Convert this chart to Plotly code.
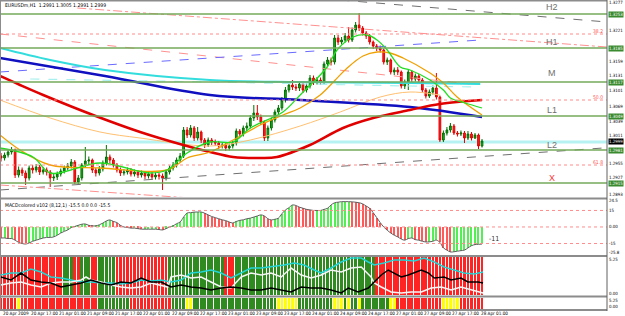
import plotly.graph_objects as go

W, H = 625, 316
XR = 607  # right edge of plotting area (px)

# ---------------- DATA ----------------
OPEN = [1.2969,1.2965,1.2971,1.2977,1.2981,1.2931,1.2941,1.2935,1.2925,1.2945,
1.2941,1.2947,1.2937,1.2941,1.2937,1.2925,1.2927,1.2933,1.2939,1.2945,
1.2949,1.2957,1.2917,1.2925,1.2951,1.2959,1.2961,1.2941,1.2935,1.2943,
1.2955,1.2967,1.2961,1.2951,1.2941,1.2935,1.2937,1.2941,1.2933,1.2937,
1.2931,1.2935,1.2929,1.2933,1.2927,1.2931,1.2929,1.2925,1.2937,1.2945,
1.2951,1.2961,1.2969,1.3021,1.3011,1.3025,1.3005,1.3017,1.3001,1.2991,
1.3001,1.2997,1.2995,1.2989,1.2991,1.2985,1.2989,1.2995,1.3019,1.3013,
1.3025,1.3029,1.3045,1.3055,1.3047,1.3037,1.3005,1.3025,1.3041,1.3057,
1.3065,1.3081,1.3101,1.3111,1.3107,1.3105,1.3113,1.3101,1.3109,1.3125,
1.3117,1.3121,1.3117,1.3153,1.3161,1.3157,1.3205,1.3197,1.3201,1.3209,
1.3201,1.3221,1.3231,1.3225,1.3215,1.3209,1.3197,1.3189,1.3185,1.3181,
1.3157,1.3161,1.3137,1.3141,1.3137,1.3109,1.3117,1.3137,1.3123,1.3129,
1.3121,1.3101,1.3089,1.3097,1.3105,1.3087,1.3001,1.3015,1.3021,1.3029,
1.3015,1.3013,1.3015,1.3005,1.3013,1.3005,1.3011,1.2989]
HIGH = [1.2975,1.2976,1.2983,1.2987,1.2984,1.2948,1.2946,1.2940,1.2950,1.2951,
1.2953,1.2951,1.2947,1.2946,1.2941,1.2933,1.2938,1.2944,1.2950,1.2955,
1.2963,1.2961,1.2931,1.2955,1.2987,1.2968,1.2964,1.2945,1.2949,1.2960,
1.2991,1.2972,1.2965,1.2955,1.2946,1.2943,1.2946,1.2945,1.2942,1.2941,
1.2940,1.2939,1.2938,1.2937,1.2936,1.2935,1.2934,1.2942,1.2950,1.2957,
1.2966,1.2975,1.3027,1.3027,1.3031,1.3029,1.3027,1.3020,1.3005,1.3006,
1.3005,1.3002,1.2999,1.2996,1.2995,1.2994,1.3000,1.3024,1.3023,1.3030,
1.3036,1.3051,1.3071,1.3071,1.3052,1.3040,1.3030,1.3046,1.3062,1.3071,
1.3087,1.3107,1.3117,1.3121,1.3113,1.3118,1.3117,1.3114,1.3131,1.3130,
1.3127,1.3126,1.3158,1.3167,1.3166,1.3211,1.3211,1.3207,1.3215,1.3227,
1.3226,1.3237,1.3255,1.3229,1.3219,1.3213,1.3200,1.3193,1.3190,1.3184,
1.3166,1.3164,1.3146,1.3147,1.3140,1.3122,1.3142,1.3141,1.3134,1.3133,
1.3125,1.3105,1.3102,1.3110,1.3135,1.3090,1.3020,1.3027,1.3035,1.3033,
1.3019,1.3020,1.3019,1.3019,1.3017,1.3015,1.3014,1.3003]
LOW = [1.2958,1.2960,1.2966,1.2972,1.2925,1.2926,1.2929,1.2911,1.2920,1.2934,
1.2936,1.2931,1.2932,1.2930,1.2907,1.2919,1.2921,1.2928,1.2934,1.2940,
1.2944,1.2913,1.2911,1.2920,1.2946,1.2952,1.2935,1.2928,1.2930,1.2938,
1.2950,1.2954,1.2946,1.2936,1.2929,1.2930,1.2932,1.2928,1.2928,1.2925,
1.2926,1.2923,1.2924,1.2921,1.2922,1.2922,1.2901,1.2920,1.2932,1.2940,
1.2946,1.2956,1.2965,1.3005,1.3006,1.2999,1.3000,1.2995,1.2985,1.2987,
1.2991,1.2989,1.2983,1.2984,1.2979,1.2980,1.2984,1.2990,1.3007,1.3008,
1.3019,1.3024,1.3039,1.3041,1.3031,1.2999,1.2999,1.3020,1.3036,1.3051,
1.3060,1.3076,1.3096,1.3101,1.3099,1.3099,1.3095,1.3096,1.3104,1.3111,
1.3112,1.3111,1.3113,1.3147,1.3150,1.3152,1.3191,1.3192,1.3196,1.3196,
1.3197,1.3216,1.3219,1.3210,1.3203,1.3192,1.3183,1.3179,1.3176,1.3152,
1.3151,1.3132,1.3131,1.3131,1.3104,1.3103,1.3101,1.3117,1.3118,1.3116,
1.3096,1.3084,1.3085,1.3092,1.3082,1.2997,1.2997,1.3010,1.3016,1.3011,
1.3008,1.3009,1.2995,1.3001,1.3000,1.3003,1.2983,1.2986]
CLOSE = [1.2965,1.2971,1.2977,1.2981,1.2931,1.2941,1.2935,1.2925,1.2945,1.2941,
1.2947,1.2937,1.2941,1.2937,1.2925,1.2927,1.2933,1.2939,1.2945,1.2949,
1.2957,1.2917,1.2925,1.2951,1.2959,1.2961,1.2941,1.2935,1.2943,1.2955,
1.2967,1.2961,1.2951,1.2941,1.2935,1.2937,1.2941,1.2933,1.2937,1.2931,
1.2935,1.2929,1.2933,1.2927,1.2931,1.2929,1.2925,1.2937,1.2945,1.2951,
1.2961,1.2969,1.3021,1.3011,1.3025,1.3005,1.3017,1.3001,1.2991,1.3001,
1.2997,1.2995,1.2989,1.2991,1.2985,1.2989,1.2995,1.3019,1.3013,1.3025,
1.3029,1.3045,1.3055,1.3047,1.3037,1.3005,1.3025,1.3041,1.3057,1.3065,
1.3081,1.3101,1.3111,1.3107,1.3105,1.3113,1.3101,1.3109,1.3125,1.3117,
1.3121,1.3117,1.3153,1.3161,1.3157,1.3205,1.3197,1.3201,1.3209,1.3201,
1.3221,1.3231,1.3225,1.3215,1.3209,1.3197,1.3189,1.3185,1.3181,1.3157,
1.3161,1.3137,1.3141,1.3137,1.3109,1.3117,1.3137,1.3123,1.3129,1.3121,
1.3101,1.3089,1.3097,1.3105,1.3087,1.3001,1.3015,1.3021,1.3029,1.3015,
1.3013,1.3015,1.3005,1.3013,1.3005,1.3011,1.2989,1.2999]

TIME_LABELS = ["20 Apr 2009", "20 Apr 17:00", "21 Apr 01:00", "21 Apr 09:00", "21 Apr 17:00",
               "22 Apr 01:00", "22 Apr 09:00", "22 Apr 17:00", "23 Apr 01:00", "23 Apr 09:00",
               "23 Apr 17:00", "24 Apr 01:00", "24 Apr 09:00", "24 Apr 17:00", "27 Apr 01:00",
               "27 Apr 09:00", "27 Apr 17:00", "28 Apr 01:00"]
TIME_LABEL_BARS = [0, 8, 16, 24, 32, 40, 48, 56, 64, 72, 80, 88, 96, 104, 112, 120, 128, 136]

# moving averages (bar index, price)
MA_RED_X = [-0.3, 5.4, 12, 26.2, 39.6, 51.9, 59.5, 66.1, 73.8, 78.6, 88, 97.4, 106, 116.5, 125, 137]
MA_RED_Y = [1.3129, 1.3111, 1.3091, 1.3051, 1.3017, 1.2991, 1.2977, 1.2967, 1.2965, 1.2967,
            1.2991, 1.3025, 1.3045, 1.3061, 1.3073, 1.3081]
MA_BLUE_X = [-0.3, 29.6, 59.5, 85.2, 116.5, 137]
MA_BLUE_Y = [1.3165, 1.3129, 1.3091, 1.3081, 1.3067, 1.3047]
MA_CYAN_X = [-0.3, 14, 29.6, 59.5, 85.2, 116.5, 136.5]
MA_CYAN_Y = [1.3185, 1.3161, 1.3141, 1.3121, 1.3117, 1.3115, 1.3113]
MA_LCYAN_X = [8.3, 59.5, 116.5, 136.5]
MA_LCYAN_Y = [1.3123, 1.3117, 1.3109, 1.3107]
MA_ORANGE_X = [-0.3, 5.4, 14, 28.2, 47.3, 53, 59.5, 66.1, 73.8, 80.3, 85.2, 90.9, 95.2, 98.6,
               103.1, 107.1, 110.8, 114.5, 122.2, 126, 129.9, 137]
MA_ORANGE_Y = [1.3011, 1.2981, 1.2951, 1.2945, 1.2941, 1.2965, 1.2977, 1.3001, 1.3031, 1.3051,
               1.3065, 1.3091, 1.3121, 1.3145, 1.3169, 1.3177, 1.3175, 1.3165, 1.3135, 1.3115,
               1.3087, 1.3051]
MA_TAN_X = [-0.3, 14, 28.2, 39.6, 59.5, 71, 85.2, 96.6, 108, 116.5, 125]
MA_TAN_Y = [1.3081, 1.3045, 1.3017, 1.3005, 1.2989, 1.3001, 1.3029, 1.3057, 1.3087, 1.3097, 1.3091]
MA_GREEN_X = [-0.3, 9.1, 14, 28.2, 42.5, 47.3, 53, 59.5, 66.1, 71, 80.3, 85.2, 92.9, 95.7, 100.3,
              104.3, 107.1, 110, 113.7, 116.5, 122.2, 126, 128, 132.2, 137]
MA_GREEN_Y = [1.2985, 1.2967, 1.2935, 1.2955, 1.2935, 1.2941, 1.2975, 1.2997, 1.2997, 1.3025,
              1.3057, 1.3091, 1.3147, 1.3181, 1.3207, 1.3211, 1.3201, 1.3181, 1.3147, 1.3141,
              1.3121, 1.3101, 1.3085, 1.3075, 1.3065]

# trend lines (two end points each, bar index / price)
TL_GRAY_TOP = ([96.6, 172.6], [1.3281, 1.3237])
TL_PINK_1 = ([21.7, 172.6], [1.3265, 1.3187])
TL_PINK_2 = ([-0.3, 133.6], [1.3213, 1.3113])
TL_BLUE = ([-0.3, 136.5], [1.3137, 1.3201])
TL_GRAY_LOW = ([-0.3, 171.5], [1.2901, 1.2985])
TL_PINK_LOW = ([-0.3, 54], [1.2911, 1.2885])

LEVEL_NAMES = ["H2", "H1", "M", "L1", "L2", "X"]
LEVEL_PRICES = [1.3253, 1.3185, 1.3117, 1.3049, 1.2981, 1.2915]
FIB_NAMES = ["38.2", "50.0", "61.8"]
FIB_PRICES = [1.3213, 1.3081, 1.2951]
BID_PRICE = 1.2997
LAST_PRICE = 1.2999
PRICE_TICKS = [1.3277, 1.3221, 1.3159, 1.3131, 1.3101, 1.3069, 1.3039, 1.3011, 1.2955, 1.2927, 1.2893]

MACD = [-10,-10,-10.5,-10.5,-12,-14,-15,-15.5,-14.5,-13,
-12,-11,-10,-9.5,-9.5,-9,-7.5,-5.5,-4,-2.7,
-0.5,0.5,1.5,2.5,2.7,1.5,1,1,2,3.5,
5.5,6.4,5,4,1.5,0,-0.5,-1,-1,-1.5,
-2,-2,-2,-2,-2,-2.3,-2.7,-1.5,0,1,
3,4.5,9,12.7,13,13.5,13.6,13.6,12.5,11,
9.5,8.5,7.5,6.5,5.8,4.5,3.6,5,6,6.5,
7.5,8,9,10,11,10,7.5,6.4,7,8,
12,15.5,17.5,20,19.5,18,17,16,15.5,15,
15,15,16,17,20,22,22.5,23,23,23,
22.8,22.5,22,21,19,17,13,8.5,4,0,
-3,-5.5,-7.5,-9,-11,-12,-10.5,-10,-11.5,-12,
-13,-13.6,-13.5,-13,-12,-14,-19,-21,-22.7,-22.5,
-22,-21.5,-21,-19,-17,-16,-15.8,-15.5]
MACD_LEVELS = [15, 0, -15]
MACD_LABELS = ["24.5", "15", "0.00", "-15", "-25.8"]
MACD_LABEL_VALUES = [24.0, 15, 0, -15, -22.8]

# oscillator panel: state runs (first bar, last bar, state)
OSC_RUNS = [(0, 17, "down"), (18, 20, "up"), (21, 22, "down"), (23, 25, "up"), (26, 27, "down"),
            (28, 32, "up"), (33, 47, "down"), (48, 63, "up"), (64, 66, "down"), (67, 106, "up"),
            (107, 137, "down")]
OSC_CYAN_X = [0, 2.8, 5.7, 8.5, 11.4, 14.2, 17.1, 19.9, 22.8, 25.6, 28.5, 31.3, 34.2, 37, 39.9, 42.7,
              45.6, 48.4, 51.3, 54.1, 57, 59.8, 62.7, 65.5, 68.4, 71.2, 74.1, 76.9, 80.6, 83.5, 86.3,
              89.2, 91.2, 94, 96.9, 99.7, 102.6, 104.6, 106.3, 109.1, 112, 114.8, 117.7, 120.5,
              123.4, 126.2, 129.1, 131.9, 134.8, 137.3]
OSC_CYAN_Y = [2.77, 3.06, 3.06, 3.65, 3.21, 2.48, 2.33, 2.04, 1.75, 1.75, 1.60, 1.60, 1.46, 1.60, 2.04,
              1.90, 2.04, 1.75, 2.04, 3.06, 3.21, 3.50, 3.06, 2.33, 3.06, 3.79, 3.79, 3.94, 4.23, 4.52,
              4.23, 3.50, 3.06, 3.79, 4.67, 5.25, 5.25, 4.67, 4.23, 4.52, 4.96, 4.96, 4.81, 5.25,
              4.67, 3.94, 3.50, 3.06, 2.92, 3.21]
OSC_WHITE_X = [0, 2.8, 5.7, 8.5, 11.4, 14.2, 17.1, 19.9, 22.8, 24.2, 25.6, 28.5, 31.3, 34.2, 37, 39.9,
               42.7, 45.6, 47.5, 48.4, 51.3, 54.1, 57, 59.8, 62.7, 65.5, 68.4, 71.2, 74.1, 76.9, 79.8,
               82.6, 85.5, 88.3, 91.2, 94, 96.9, 99.7, 102.6, 105.4, 106.3, 108.3, 111.1, 114,
               116.8, 119.7, 122.5, 125.4, 128.2, 131, 133.9, 137.3]
OSC_WHITE_Y = [1.31, 1.60, 1.75, 1.31, 1.02, 1.60, 1.75, 1.75, 2.04, 2.48, 2.04, 1.75, 1.31, 1.02, 0.87,
               1.02, 1.60, 1.31, 1.02, 2.48, 2.77, 2.33, 2.48, 1.75, 1.02, 0.87, 2.48, 3.06, 2.77,
               3.06, 2.48, 3.79, 2.77, 2.33, 2.77, 3.50, 3.21, 3.79, 3.94, 2.48, 1.60, 1.02, 0.29,
               0.15, 0.29, 0.29, 0.87, 1.02, 0.58, 1.02, 0.58, 0.15]
OSC_BLACK_X = [0, 2.8, 5.7, 8.5, 11.4, 14.2, 17.1, 19.9, 22.8, 25.6, 28.5, 31.3, 34.2, 37, 39.9, 42.7,
               45.6, 48.4, 51.3, 54.1, 57, 59.8, 62.7, 65.5, 68.4, 71.2, 74.1, 76.9, 79.8, 82.6, 85.5,
               88.3, 91.2, 94, 96.9, 98.9, 101.7, 104.6, 106.3, 108.3, 110.3, 112, 114, 116, 117.7,
               119.7, 121.7, 123.4, 126.2, 128.2, 131, 133, 135.9, 137.3]
OSC_BLACK_Y = [2.48, 2.04, 3.06, 2.04, 1.75, 1.60, 1.02, 1.31, 1.60, 2.04, 1.60, 1.31, 1.75, 1.60, 2.33,
               1.75, 1.75, 1.02, 1.31, 1.02, 0.87, 0.58, 0.87, 1.02, 0.87, 0.58, 0.58, 0.87, 0.58,
               0.29, 1.02, 0.87, 0.87, 0.58, 0.15, 0.87, 0.29, 0.87, 1.75, 2.77, 3.50, 3.06, 2.48,
               2.77, 3.06, 3.50, 3.06, 2.33, 2.48, 2.04, 2.33, 1.75, 1.75, 1.60]

# bottom strip: state runs
STRIP_RUNS = [(0, 4, "down"), (5, 5, "flat"), (6, 27, "down"), (28, 36, "up"), (37, 48, "down"),
              (49, 52, "up"), (53, 54, "flat"), (55, 78, "up"), (79, 84, "flat"), (85, 94, "up"),
              (95, 97, "flat"), (98, 98, "up"), (99, 99, "flat"), (100, 101, "up"), (102, 102, "flat"),
              (103, 110, "up"), (111, 112, "flat"), (113, 125, "down"), (126, 130, "flat"),
              (131, 137, "down")]

# ---------------- FIGURE ----------------
N = len(CLOSE)
BARS = list(range(N))
XRANGE = [-0.3, 172.6]
STATE_COLORS = {"up": "#2f8a1f", "down": "#ff2424", "flat": "#ffff00"}
SMALL = dict(family="DejaVu Sans Condensed, DejaVu Sans, sans-serif", size=5, color="#000000")
AXLAB = dict(SMALL, size=4.4)


def ydom(top, bottom):
    return [1 - bottom / H, 1 - top / H]


def py(y):
    return 1 - y / H


def expand(runs):
    out = [None] * N
    for a, b, s in runs:
        for i in range(a, b + 1):
            out[i] = STATE_COLORS[s]
    return out


fig = go.Figure()


def line(xs, ys, color, width, dash="solid", shape="spline"):
    fig.add_trace(go.Scatter(x=xs, y=ys, mode="lines", xaxis="x", yaxis="y",
                             line=dict(color=color, width=width, dash=dash, shape=shape),
                             hoverinfo="skip", showlegend=False))


line(*TL_GRAY_TOP, "#707070", 1, "dash", "linear")
line(*TL_PINK_1, "#ff9090", 1, "dashdot", "linear")
line(*TL_PINK_2, "#ff9090", 1, "dash", "linear")
line(*TL_BLUE, "#6a6aff", 1, "dash", "linear")
line(*TL_GRAY_LOW, "#707070", 1, "dash", "linear")
line(*TL_PINK_LOW, "#ff9090", 1, "dashdot", "linear")
line(MA_LCYAN_X, MA_LCYAN_Y, "#a8f0f0", 1.2, "dash")
line(MA_CYAN_X, MA_CYAN_Y, "#33dddd", 2)
line(MA_TAN_X, MA_TAN_Y, "#ffc070", 1)
line(MA_BLUE_X, MA_BLUE_Y, "#1010c0", 2.5)
line(MA_RED_X, MA_RED_Y, "#e00000", 2.5)
line(MA_ORANGE_X, MA_ORANGE_Y, "#f0a000", 1.3)
line(MA_GREEN_X, MA_GREEN_Y, "#22dd22", 1.3)

fig.add_trace(go.Candlestick(
    x=BARS, open=OPEN, high=HIGH, low=LOW, close=CLOSE, xaxis="x", yaxis="y",
    increasing=dict(line=dict(color="#007000", width=1), fillcolor="#20b020"),
    decreasing=dict(line=dict(color="#e00000", width=1), fillcolor="#ff2020"),
    whiskerwidth=0, hoverinfo="skip", showlegend=False))

# MACD panel
macd_colors = []
for i, v in enumerate(MACD):
    if i > 0 and v >= MACD[i - 1]:
        macd_colors.append("#55ee55")
    else:
        macd_colors.append("#ff5a5a")
fig.add_trace(go.Bar(x=BARS, y=MACD, width=0.3, marker=dict(color=macd_colors, line=dict(width=0)),
                     xaxis="x2", yaxis="y2", hoverinfo="skip", showlegend=False))
fig.add_trace(go.Scatter(x=BARS, y=MACD, mode="lines", xaxis="x2", yaxis="y2",
                         line=dict(color="#606060", width=1, shape="spline"),
                         hoverinfo="skip", showlegend=False))

# oscillator panel
osc_colors = expand(OSC_RUNS)
fig.add_trace(go.Bar(x=BARS, y=[5.6] * N, base=-0.2, width=0.78,
                     marker=dict(color=osc_colors, line=dict(width=0)),
                     xaxis="x3", yaxis="y3", hoverinfo="skip", showlegend=False))
for xs, ys, c in [(OSC_CYAN_X, OSC_CYAN_Y, "#22d4d4"), (OSC_WHITE_X, OSC_WHITE_Y, "#f4f4f4"),
                  (OSC_BLACK_X, OSC_BLACK_Y, "#000000")]:
    fig.add_trace(go.Scatter(x=xs, y=ys, mode="lines", xaxis="x3", yaxis="y3",
                             line=dict(color=c, width=1.5), hoverinfo="skip", showlegend=False))

# bottom strip
strip_colors = expand(STRIP_RUNS)
fig.add_trace(go.Bar(x=BARS, y=[1] * N, width=0.78, marker=dict(color=strip_colors, line=dict(width=0)),
                     xaxis="x4", yaxis="y4", hoverinfo="skip", showlegend=False))

# ---------------- LAYOUT ----------------
xd = [0, XR / W]
ax = dict(range=XRANGE, showgrid=False, zeroline=False, showticklabels=False, ticks="",
          domain=xd, fixedrange=True)
yax = dict(showgrid=False, zeroline=False, showticklabels=False, ticks="", fixedrange=True)

P_TOP, P_BOT = 1.3279, 1.2887  # main panel range (pixels 1..197)

fig.update_layout(
    width=W, height=H, margin=dict(l=0, r=0, t=0, b=0),
    paper_bgcolor="white", plot_bgcolor="white",
    font=dict(family="DejaVu Sans Condensed, DejaVu Sans, sans-serif", size=6, color="#000000"),
    showlegend=False, bargap=0,
    xaxis=dict(ax, anchor="y", rangeslider=dict(visible=False)),
    xaxis2=dict(ax, anchor="y2", matches="x"),
    xaxis3=dict(ax, anchor="y3", matches="x"),
    xaxis4=dict(ax, anchor="y4", matches="x"),
    yaxis=dict(yax, domain=ydom(1, 197), range=[P_BOT, P_TOP], anchor="x"),
    yaxis2=dict(yax, domain=ydom(200, 255), range=[-25.45, 24.5], anchor="x2"),
    yaxis3=dict(yax, domain=ydom(257, 295), range=[-0.15, 5.4], anchor="x3"),
    yaxis4=dict(yax, domain=ydom(298, 309), range=[0, 1], anchor="x4"),
)

shapes = []
ann = []

for p in LEVEL_PRICES:
    shapes.append(dict(type="line", xref="paper", yref="y", x0=0, x1=XR / W, y0=p, y1=p,
                       line=dict(color="#74aa5a", width=1.5)))
for p in FIB_PRICES:
    shapes.append(dict(type="line", xref="paper", yref="y", x0=0, x1=XR / W, y0=p, y1=p,
                       line=dict(color="#ff8c8c", width=1, dash="dot")))
shapes.append(dict(type="line", xref="paper", yref="y", x0=0, x1=XR / W, y0=BID_PRICE, y1=BID_PRICE,
                   line=dict(color="#b6f2f2", width=3), layer="below"))
for v in MACD_LEVELS:
    shapes.append(dict(type="line", xref="paper", yref="y2", x0=0, x1=XR / W, y0=v, y1=v,
                       line=dict(color="#ff8c8c", width=1, dash="dot")))

for yy in [0.5, 198.5, 256, 296.5, 310]:
    shapes.append(dict(type="line", xref="paper", yref="paper", x0=0, x1=XR / W, y0=py(yy), y1=py(yy),
                       line=dict(color="#8c8c8c", width=2)))
shapes.append(dict(type="line", xref="paper", yref="paper", x0=XR / W, x1=XR / W, y0=py(0), y1=py(311),
                   line=dict(color="#606060", width=1)))
shapes.append(dict(type="line", xref="paper", yref="paper", x0=0.5 / W, x1=0.5 / W, y0=py(0), y1=py(311),
                   line=dict(color="#8c8c8c", width=1)))

level_y = [7, 42, 73, 110, 145, 178]
for name, yy in zip(LEVEL_NAMES, level_y):
    ann.append(dict(x=552 / W, y=py(yy), xref="paper", yref="paper", text=name, showarrow=False,
                    xanchor="center", yanchor="middle",
                    font=dict(family="Liberation Sans, Arial, sans-serif", size=9,
                              color="#ff3030" if name == "X" else "#707070")))
fib_y = [31, 97, 162]
for name, yy in zip(FIB_NAMES, fib_y):
    ann.append(dict(x=605 / W, y=py(yy), xref="paper", yref="paper", text=name, showarrow=False,
                    xanchor="right", yanchor="middle", font=dict(SMALL, color="#ff5050")))

LAB_X = 608 / W
for p in PRICE_TICKS:
    ann.append(dict(x=LAB_X, y=p, xref="paper", yref="y", text=f"{p:.4f}", showarrow=False,
                    xanchor="left", yanchor="middle", borderpad=0, font=AXLAB))
for p in LEVEL_PRICES:
    ann.append(dict(x=LAB_X, y=p, xref="paper", yref="y", text=f"{p:.4f}", showarrow=False,
                    xanchor="left", yanchor="middle", bgcolor="#3a8a30", borderpad=0,
                    font=dict(AXLAB, color="#ffffff")))
ann.append(dict(x=LAB_X, y=LAST_PRICE, xref="paper", yref="y", text=f"{LAST_PRICE:.4f}", showarrow=False,
                xanchor="left", yanchor="middle", bgcolor="#000000", borderpad=0,
                font=dict(AXLAB, color="#ffffff")))

for txt, v in zip(MACD_LABELS, MACD_LABEL_VALUES):
    ann.append(dict(x=LAB_X, y=v, xref="paper", yref="y2", text=txt, showarrow=False,
                    xanchor="left", yanchor="middle", borderpad=0, font=AXLAB))
for txt, yy in [("5.25", 259), ("0.00", 293), ("5.25", 300.5), ("0.00", 306.5)]:
    ann.append(dict(x=LAB_X, y=py(yy), xref="paper", yref="paper", text=txt, showarrow=False,
                    xanchor="left", yanchor="middle", borderpad=0, font=AXLAB))

ann.append(dict(x=3 / W, y=py(5), xref="paper", yref="paper",
                text="EURUSDm,H1  1.2991 1.3005 1.2991 1.2999", showarrow=False,
                xanchor="left", yanchor="middle", font=SMALL))
ann.append(dict(x=3 / W, y=py(205), xref="paper", yref="paper",
                text="MACDcolored v102 (8,12,1) -15.5 0.0 0.0 -15.5", showarrow=False,
                xanchor="left", yanchor="middle", font=SMALL))
ann.append(dict(x=138.3, y=-11, xref="x2", yref="y2", text="-11", showarrow=False,
                xanchor="left", yanchor="middle", font=dict(SMALL, size=7, color="#303030")))

for b, t in zip(TIME_LABEL_BARS, TIME_LABELS):
    ann.append(dict(x=b, y=py(313.5), xref="x", yref="paper", text=t, showarrow=False,
                    xanchor="left", yanchor="middle", font=dict(SMALL, size=4.6)))

fig.update_layout(shapes=shapes, annotations=ann)
fig.write_html("out.html")
